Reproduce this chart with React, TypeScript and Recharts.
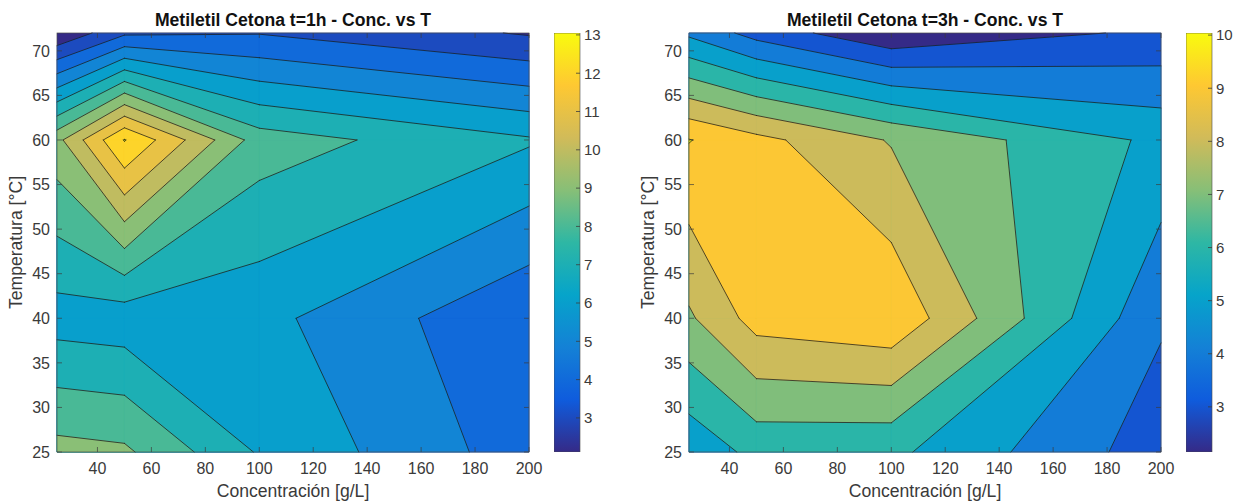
import React from 'react'
import * as Recharts from 'recharts'

const { ScatterChart, Scatter, XAxis, YAxis, Customized, BarChart, Bar } = Recharts
const rc = Recharts as any

// measurement grid
const concentrations = [25, 50, 100, 200]
const temperatures = [25, 40, 60, 72]

// one row per temperature (25, 40, 60, 72 °C), columns follow concentrations
const values1h = [
  [9.35, 9.18, 6.9, 4.46],
  [6.55, 6.4, 6.3, 4.1],
  [9.7, 13.05, 8.5, 7.12],
  [2.11, 3.82, 3.95, 2.9],
]
const values3h = [
  [5.27, 6.3, 6.22, 3.47],
  [7.85, 9.4, 9.8, 4.12],
  [10.04, 9.3, 7.92, 5.76],
  [4.8, 3.62, 2.15, 3.22],
]

const levels1h = [3, 4, 5, 6, 7, 8, 9, 10, 11, 12, 13]
const levels3h = [3, 4, 5, 6, 7, 8, 9, 10]

const concTicks = [40, 60, 80, 100, 120, 140, 160, 180, 200]
const tempTicks = [25, 30, 35, 40, 45, 50, 55, 60, 65, 70]

const title1h = 'Metiletil Cetona t=1h - Conc. vs T'
const title3h = 'Metiletil Cetona t=3h - Conc. vs T'

const FONT = '"Liberation Sans", Arial, Helvetica, sans-serif'
const TEXT = '#3a3a3a'
const PANEL_W = 545
const PANEL_H = 504
const MARGIN = { top: 33, right: 16, bottom: 4, left: 12 }
const Y_AXIS_W = 45
const X_AXIS_H = 48

const parulaStops = ['#352a87', '#0f5cdd', '#1481d6', '#06a4ca', '#2eb7a4', '#87bf77', '#d1bb59', '#fec832', '#f9fb0e']
const parulaRgb = parulaStops.map((h) => {
  const n = parseInt(h.slice(1), 16)
  return [(n >> 16) & 255, (n >> 8) & 255, n & 255]
})

function parula(t: number) {
  const c = Math.min(1, Math.max(0, t)) * (parulaRgb.length - 1)
  const i = Math.min(parulaRgb.length - 2, Math.floor(c))
  const f = c - i
  const a = parulaRgb[i]
  const b = parulaRgb[i + 1]
  const mix = (k: number) => Math.round(a[k] + (b[k] - a[k]) * f)
  return `rgb(${mix(0)},${mix(1)},${mix(2)})`
}

const gridMin = (g: number[][]) => Math.min(...g.flat())
const gridMax = (g: number[][]) => Math.max(...g.flat())

type Node = { x: number; y: number; v: number; cut?: boolean }

// keep the part of a cell where the interpolated value is >= level
function clipAbove(poly: Node[], level: number): Node[] {
  const out: Node[] = []
  poly.forEach((a, i) => {
    const b = poly[(i + 1) % poly.length]
    const inA = a.v >= level
    const inB = b.v >= level
    if (inA) out.push(a)
    if (inA !== inB) {
      const t = (level - a.v) / (b.v - a.v)
      out.push({ x: a.x + t * (b.x - a.x), y: a.y + t * (b.y - a.y), v: level, cut: true })
    }
  })
  return out
}

const linear = (d0: number, d1: number, r0: number, r1: number) => (v: number) =>
  r0 + ((v - d0) * (r1 - r0)) / (d1 - d0)

function usePlotScales() {
  const area = rc.usePlotArea ? rc.usePlotArea() : undefined
  const offset = rc.useOffset ? rc.useOffset() : undefined
  const xHook = rc.useXAxisScale ? rc.useXAxisScale() : undefined
  const yHook = rc.useYAxisScale ? rc.useYAxisScale() : undefined

  let box = {
    x: MARGIN.left + Y_AXIS_W,
    y: MARGIN.top,
    width: PANEL_W - MARGIN.left - Y_AXIS_W - MARGIN.right,
    height: PANEL_H - MARGIN.top - MARGIN.bottom - X_AXIS_H,
  }
  if (area && area.width > 0) box = { x: area.x, y: area.y, width: area.width, height: area.height }
  else if (offset && offset.width > 0) box = { x: offset.left, y: offset.top, width: offset.width, height: offset.height }

  const sx =
    typeof xHook === 'function' && Number.isFinite(xHook(100))
      ? (v: number) => xHook(v) as number
      : linear(25, 200, box.x, box.x + box.width)
  const sy =
    typeof yHook === 'function' && Number.isFinite(yHook(50))
      ? (v: number) => yHook(v) as number
      : linear(25, 72, box.y + box.height, box.y)
  return { sx, sy, box }
}

function ContourLayer({ grid, levels, title }: { grid: number[][]; levels: number[]; title: string }) {
  const { sx, sy, box } = usePlotScales()
  const lo = gridMin(grid)
  const hi = gridMax(grid)
  const color = (v: number) => parula((v - lo) / (hi - lo))

  const fills: React.ReactNode[] = []
  const lines: React.ReactNode[] = []

  levels.forEach((level) => {
    const c = color(level)
    for (let j = 0; j < temperatures.length - 1; j++) {
      for (let i = 0; i < concentrations.length - 1; i++) {
        const cell: Node[] = [
          { x: sx(concentrations[i]), y: sy(temperatures[j]), v: grid[j][i] },
          { x: sx(concentrations[i + 1]), y: sy(temperatures[j]), v: grid[j][i + 1] },
          { x: sx(concentrations[i + 1]), y: sy(temperatures[j + 1]), v: grid[j + 1][i + 1] },
          { x: sx(concentrations[i]), y: sy(temperatures[j + 1]), v: grid[j + 1][i] },
        ]
        const poly = clipAbove(cell, level)
        if (poly.length < 3) continue
        fills.push(
          <polygon
            key={`f${level}-${i}-${j}`}
            points={poly.map((p) => `${p.x},${p.y}`).join(' ')}
            fill={c}
            stroke={c}
            strokeWidth={0.6}
            strokeLinejoin="round"
          />
        )
        poly.forEach((p, k) => {
          const q = poly[(k + 1) % poly.length]
          if (p.cut && q.cut) {
            lines.push(
              <line key={`l${level}-${i}-${j}-${k}`} x1={p.x} y1={p.y} x2={q.x} y2={q.y} />
            )
          }
        })
      }
    }
  })

  const bottom = box.y + box.height
  const right = box.x + box.width
  const tick = 5

  return (
    <g>
      <rect x={box.x} y={box.y} width={box.width} height={box.height} fill={color(lo)} />
      {fills}
      <g stroke="#1c1c1c" strokeWidth={0.9} strokeOpacity={0.85} strokeLinecap="round">
        {lines}
      </g>
      <g stroke="#3c3c3c" strokeWidth={0.7}>
        {concTicks.map((t) => (
          <g key={`xt${t}`}>
            <line x1={sx(t)} x2={sx(t)} y1={bottom} y2={bottom - tick} />
            <line x1={sx(t)} x2={sx(t)} y1={box.y} y2={box.y + tick} />
          </g>
        ))}
        {tempTicks.map((t) => (
          <g key={`yt${t}`}>
            <line x1={box.x} x2={box.x + tick} y1={sy(t)} y2={sy(t)} />
            <line x1={right} x2={right - tick} y1={sy(t)} y2={sy(t)} />
          </g>
        ))}
      </g>
      <rect x={box.x} y={box.y} width={box.width} height={box.height} fill="none" stroke="#4a4a4a" strokeWidth={0.7} />
      <text
        x={box.x + box.width / 2}
        y={box.y - 7}
        textAnchor="middle"
        fontFamily={FONT}
        fontSize={17.6}
        fontWeight="bold"
        fill="#111"
      >
        {title}
      </text>
    </g>
  )
}

function ContourPanel({ grid, levels, title, left }: { grid: number[][]; levels: number[]; title: string; left: number }) {
  const nodes = temperatures.flatMap((t) => concentrations.map((c) => ({ c, t })))
  const tickStyle = { fill: TEXT, fontSize: 16, fontFamily: FONT }
  return (
    <div style={{ position: 'absolute', left, top: 0 }}>
      <ScatterChart width={PANEL_W} height={PANEL_H} margin={MARGIN}>
        <Customized component={<ContourLayer grid={grid} levels={levels} title={title} />} />
        <XAxis
          type="number"
          dataKey="c"
          domain={[25, 200]}
          ticks={concTicks}
          allowDataOverflow
          interval={0}
          axisLine={false}
          tickLine={false}
          tickSize={5}
          tickMargin={6}
          height={X_AXIS_H}
          tick={tickStyle}
          label={{
            value: 'Concentración [g/L]',
            position: 'insideBottom',
            offset: 3,
            fill: TEXT,
            fontSize: 17.6,
            fontFamily: FONT,
          }}
        />
        <YAxis
          type="number"
          dataKey="t"
          domain={[25, 72]}
          ticks={tempTicks}
          allowDataOverflow
          interval={0}
          axisLine={false}
          tickLine={false}
          tickSize={5}
          tickMargin={2}
          width={Y_AXIS_W}
          tick={tickStyle}
          label={{
            value: 'Temperatura [°C]',
            angle: -90,
            position: 'insideLeft',
            offset: 4,
            fill: TEXT,
            fontSize: 17.6,
            fontFamily: FONT,
            style: { textAnchor: 'middle' },
          }}
        />
        <Scatter data={nodes} isAnimationActive={false} shape={() => <g />} />
      </ScatterChart>
    </div>
  )
}

function Colorbar({ grid, ticks, gradientId, left }: { grid: number[][]; ticks: number[]; gradientId: string; left: number }) {
  const lo = gridMin(grid)
  const hi = gridMax(grid)
  const data = [{ name: 'escala', range: [lo, hi] }]
  return (
    <div style={{ position: 'absolute', left, top: 0 }}>
      <BarChart width={70} height={PANEL_H} data={data} margin={{ top: 33, right: 0, bottom: 52, left: 0 }} barCategoryGap={0}>
        <XAxis dataKey="name" hide />
        <Bar dataKey="range" fill={`url(#${gradientId})`} stroke="#4a4a4a" strokeWidth={0.6} isAnimationActive={false} />
        <YAxis
          orientation="right"
          type="number"
          domain={[lo, hi]}
          ticks={ticks}
          allowDataOverflow
          interval={0}
          width={44}
          axisLine={false}
          tickSize={-4}
          tickMargin={8}
          tickLine={{ stroke: '#3c3c3c', strokeWidth: 0.8 }}
          tick={{ fill: TEXT, fontSize: 15, fontFamily: FONT }}
        />
      </BarChart>
    </div>
  )
}

export default function App() {
  return (
    <div style={{ position: 'absolute', left: 0, top: 0, width: 1239, height: 504, background: '#fff', overflow: 'hidden' }}>
      <svg width={0} height={0} style={{ position: 'absolute' }}>
        <defs>
          {['parula1h', 'parula3h'].map((id) => (
            <linearGradient key={id} id={id} x1="0" y1="1" x2="0" y2="0">
              {parulaStops.map((c, i) => (
                <stop key={c} offset={i / (parulaStops.length - 1)} stopColor={c} />
              ))}
            </linearGradient>
          ))}
        </defs>
      </svg>
      <ContourPanel grid={values1h} levels={levels1h} title={title1h} left={0} />
      <Colorbar grid={values1h} ticks={levels1h} gradientId="parula1h" left={554} />
      <ContourPanel grid={values3h} levels={levels3h} title={title3h} left={632} />
      <Colorbar grid={values3h} ticks={levels3h} gradientId="parula3h" left={1186} />
    </div>
  )
}
